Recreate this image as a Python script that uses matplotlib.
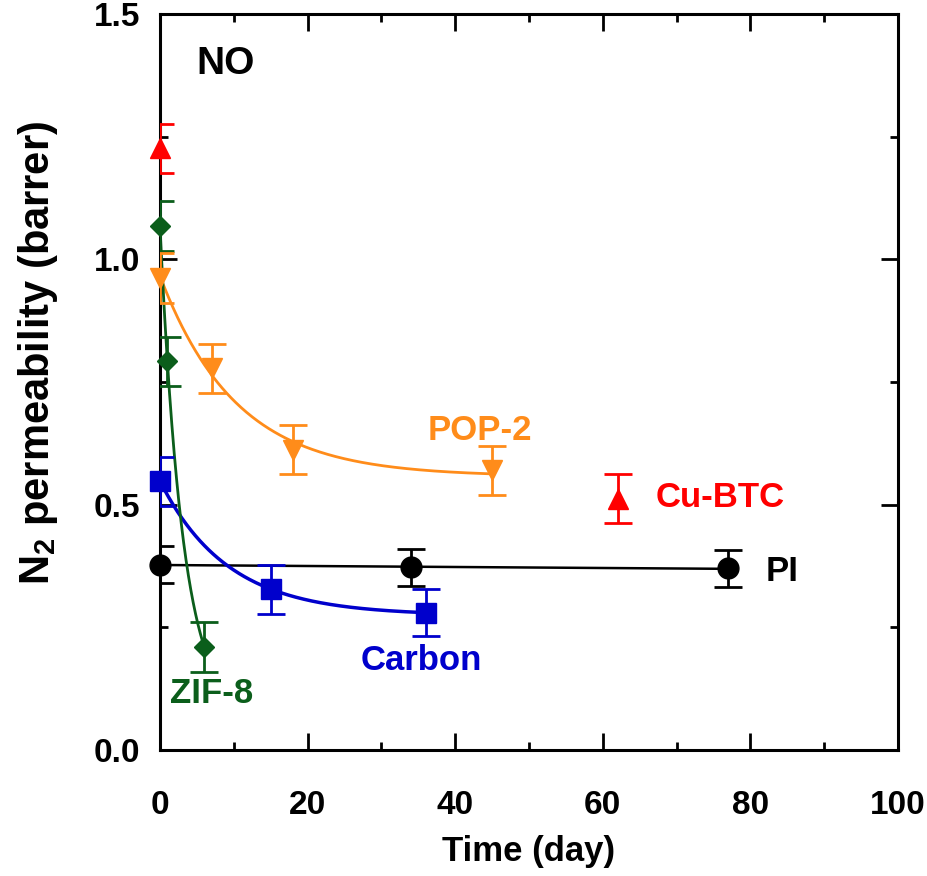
import numpy as np
import matplotlib
matplotlib.use("Agg")
import matplotlib.pyplot as plt
from matplotlib.ticker import MultipleLocator

plt.rcParams['font.family'] = ['Liberation Sans', 'DejaVu Sans']
plt.rcParams['font.weight'] = 'bold'
plt.rcParams['mathtext.fontset'] = 'custom'
plt.rcParams['mathtext.rm'] = 'Liberation Sans:bold'
plt.rcParams['mathtext.it'] = 'Liberation Sans:bold'
plt.rcParams['mathtext.bf'] = 'Liberation Sans:bold'

# data: time (day), permeability (barrer), error
pi_t = [0, 34, 77]
pi_p = [0.378, 0.372, 0.370]
pi_e = [0.037, 0.037, 0.037]

carbon_t = [0, 15, 36]
carbon_p = [0.548, 0.328, 0.280]
carbon_e = [0.05, 0.05, 0.048]

zif_t = [0, 1, 6]
zif_p = [1.068, 0.792, 0.210]
zif_e = [0.05, 0.05, 0.05]

pop_t = [0, 7, 18, 45]
pop_p = [0.962, 0.778, 0.612, 0.570]
pop_e = [0.05, 0.05, 0.05, 0.05]

cubtc_t = [0, 62]
cubtc_p = [1.226, 0.512]
cubtc_e = [0.05, 0.05]

orange = '#FF8C1A'
green = '#0B5E1B'
blue = '#0000CC'
red = '#FF0000'


def exp_fit(x, y):
    # y = a + b*exp(-x/tau), grid search on tau, linear lstsq on a, b
    x = np.asarray(x, float)
    y = np.asarray(y, float)
    best = None
    for tau in np.linspace(0.5, 40, 800):
        A = np.column_stack([np.ones_like(x), np.exp(-x / tau)])
        coef = np.linalg.lstsq(A, y, rcond=None)[0]
        err = np.sum((A @ coef - y) ** 2)
        if best is None or err < best[0]:
            best = (err, coef[0], coef[1], tau)
    return best[1:]


def fit_curve(ax, x, y, color, lw):
    a, b, tau = exp_fit(x, y)
    xx = np.linspace(0, max(x), 300)
    ax.plot(xx, a + b * np.exp(-xx / tau), color=color, lw=lw, zorder=2)


fig = plt.figure(figsize=(9.28, 8.76), dpi=100)
ax = fig.add_axes([0.1724, 0.1438, 0.7953, 0.8402])

# PI linear fit
k, c = np.polyfit(pi_t, pi_p, 1)
xx = np.linspace(0, max(pi_t), 50)
ax.plot(xx, k * xx + c, color='black', lw=1.8, zorder=2)
fit_curve(ax, pop_t, pop_p, orange, 2.0)
fit_curve(ax, carbon_t, carbon_p, blue, 2.5)
fit_curve(ax, zif_t, zif_p, green, 2.0)

series = [
    (pi_t, pi_p, pi_e, 'black', 'o', 15),
    (carbon_t, carbon_p, carbon_e, blue, 's', 15),
    (zif_t, zif_p, zif_e, green, 'D', 10),
    (pop_t, pop_p, pop_e, orange, 'v', 15),
    (cubtc_t, cubtc_p, cubtc_e, red, '^', 15),
]
for t, p, e, col, m, ms in series:
    ax.errorbar(t, p, yerr=e, fmt='none', ecolor=col, elinewidth=2,
                capsize=10, capthick=2, zorder=3)
    ax.plot(t, p, ls='none', marker=m, ms=ms, color=col, mec=col,
            clip_on=False, zorder=4)

ax.text(0.0894, 0.932, 'NO', transform=ax.transAxes, fontsize=28,
        fontweight='bold', va='center', ha='center')
ax.text(43.4, 0.652, 'POP-2', color=orange, fontsize=25, fontweight='bold',
        ha='center', va='center')
ax.text(67.1, 0.514, 'Cu-BTC', color=red, fontsize=25, fontweight='bold',
        ha='left', va='center')
ax.text(82.1, 0.363, 'PI', color='black', fontsize=25, fontweight='bold',
        ha='left', va='center')
ax.text(35.4, 0.183, 'Carbon', color=blue, fontsize=25, fontweight='bold',
        ha='center', va='center')
ax.text(7.05, 0.116, 'ZIF-8', color=green, fontsize=25, fontweight='bold',
        ha='center', va='center')

ax.set_xlim(0, 100)
ax.set_ylim(0, 1.5)
ax.xaxis.set_major_locator(MultipleLocator(20))
ax.xaxis.set_minor_locator(MultipleLocator(10))
ax.yaxis.set_major_locator(MultipleLocator(0.5))
ax.yaxis.set_minor_locator(MultipleLocator(0.25))
ax.yaxis.set_major_formatter(plt.FormatStrFormatter('%.1f'))
ax.tick_params(which='both', direction='in', top=True, right=True,
               width=2, labelsize=24)
ax.tick_params(axis='x', which='major', pad=29)
ax.tick_params(axis='y', which='major', pad=14)
ax.tick_params(which='major', length=12)
ax.tick_params(which='minor', length=6)
for lab in ax.get_xticklabels() + ax.get_yticklabels():
    lab.set_fontweight('bold')
for s in ax.spines.values():
    s.set_linewidth(2.2)

ax.set_xlabel('Time (day)', fontsize=25, fontweight='bold', labelpad=10)
ax.set_ylabel('N$_2$ permeability (barrer)', fontsize=30, fontweight='bold')
ax.yaxis.set_label_coords(-0.135, 0.54)

fig.savefig('out.png', dpi=100)
